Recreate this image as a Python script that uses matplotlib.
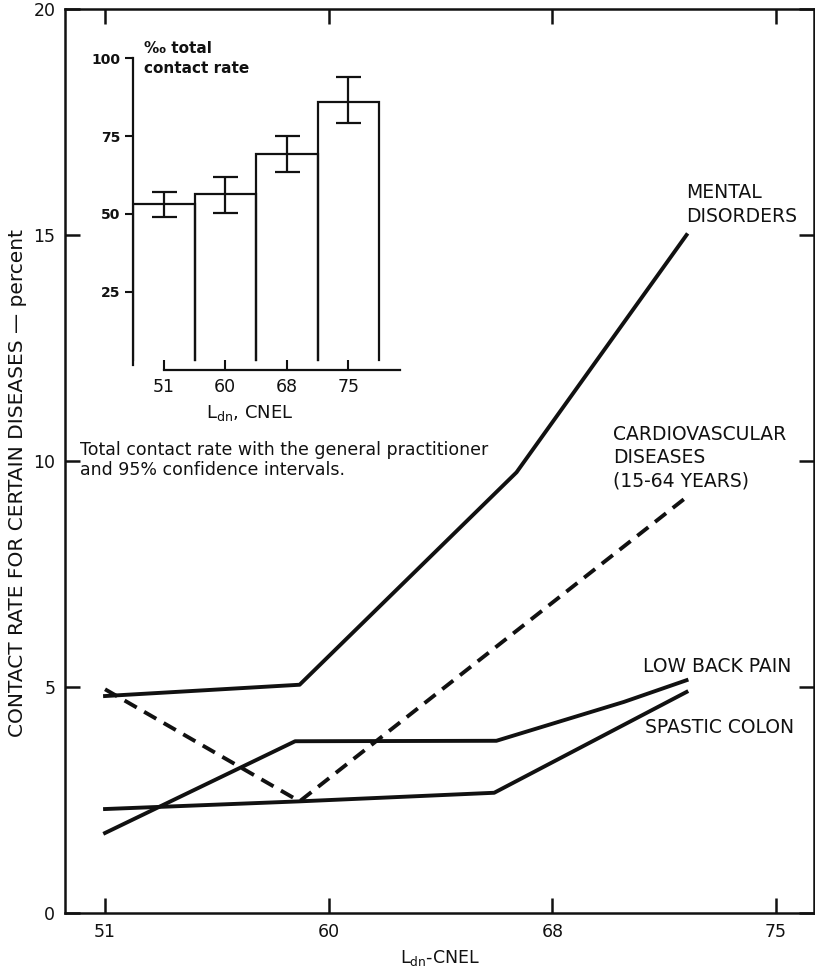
import matplotlib
matplotlib.use("Agg")
import matplotlib.pyplot as plt

# main chart, x positions are in tick-index units (51, 60, 68, 75 equally spaced)
ldn_labels = ["51", "60", "68", "75"]

mental_x = [0, 0.87, 1.84, 2.60]
mental_y = [4.8, 5.05, 9.75, 15.0]

cardio_x = [0, 0.87, 2.60]
cardio_y = [4.95, 2.47, 9.2]

backpain_x = [0, 0.85, 1.75, 2.32, 2.60]
backpain_y = [1.77, 3.80, 3.81, 4.67, 5.15]

colon_x = [0, 0.87, 1.74, 2.60]
colon_y = [2.30, 2.47, 2.66, 4.89]

# inset: total contact rate (per mille) and 95% confidence interval
inset_rate = [53.2, 56.3, 69.2, 86.1]
inset_low = [49.1, 50.2, 63.6, 79.1]
inset_high = [57.1, 62.0, 75.0, 93.9]

ink = "#111111"
plt.rcParams["font.family"] = ["DejaVu Sans"]

fig = plt.figure(figsize=(8.15, 9.76), dpi=100)
ax = fig.add_axes([65 / 815, 1 - 913 / 976, 749 / 815, 904 / 976])

lw = 2.8
ax.plot(mental_x, mental_y, color=ink, lw=lw)
ax.plot(cardio_x, cardio_y, color=ink, lw=lw, dashes=(3.6, 2.2))
ax.plot(backpain_x, backpain_y, color=ink, lw=lw)
ax.plot(colon_x, colon_y, color=ink, lw=lw)

ax.set_xlim(-0.179, 3.17)
ax.set_ylim(0, 20)
ax.set_xticks(range(len(ldn_labels)))
ax.set_xticklabels(ldn_labels)
ax.set_yticks([0, 5, 10, 15, 20])
ax.tick_params(direction="in", length=11, width=1.8, top=True, right=True,
               labelsize=12.5, colors=ink, pad=7)
for s in ax.spines.values():
    s.set_linewidth(1.8)
    s.set_color(ink)

# curve labels
lab = dict(fontsize=13.5, color=ink, va="center", ha="left", linespacing=1.3)
ax.text(2.60, 15.68, "MENTAL\nDISORDERS", **lab)
ax.text(2.27, 10.07, "CARDIOVASCULAR\nDISEASES\n(15-64 YEARS)", **lab)
ax.text(2.405, 5.46, "LOW BACK PAIN", **lab)
ax.text(2.414, 4.11, "SPASTIC COLON", **lab)

fig.text(440 / 815, 1 - 958 / 976, "L$_{\\rm dn}$-CNEL", fontsize=12.5,
         color=ink, ha="center", va="center")
fig.text(18 / 815, 1 - 483 / 976, "CONTACT RATE FOR CERTAIN DISEASES — percent",
         rotation=90, fontsize=14.5, color=ink, ha="center", va="center")

fig.text(80 / 815, 1 - 460 / 976,
         "Total contact rate with the general practitioner\nand 95% confidence intervals.",
         fontsize=12.5, color=ink, ha="left", va="center", linespacing=1.15)

# inset bar chart
ax2 = fig.add_axes([133 / 815, 1 - 369.5 / 976, 267 / 815, 311.2 / 976])
ax2.set_xlim(-0.5, 3.84)
ax2.set_ylim(0, 100)
ax2.patch.set_alpha(0)
bar_floor = 3
for i, h in enumerate(inset_rate):
    ax2.plot([i - 0.5, i - 0.5, i + 0.5, i + 0.5], [bar_floor, h, h, bar_floor],
             color=ink, lw=1.6, solid_joinstyle="miter")
err = [[r - lo for r, lo in zip(inset_rate, inset_low)],
       [hi - r for r, hi in zip(inset_rate, inset_high)]]
ax2.errorbar(range(len(inset_rate)), inset_rate, yerr=err, fmt="none",
             ecolor=ink, elinewidth=1.6, capsize=9, capthick=1.6)

ax2.spines["top"].set_visible(False)
ax2.spines["right"].set_visible(False)
ax2.spines["left"].set_bounds(1.5, 100)
ax2.spines["bottom"].set_bounds(0, 3.84)
for s in ax2.spines.values():
    s.set_linewidth(1.6)
    s.set_color(ink)
ax2.set_yticks([25, 50, 75, 100])
ax2.set_yticklabels(["25", "50", "75", "100"], fontweight="bold")
ax2.tick_params(axis="y", direction="out", length=6, width=1.5, labelsize=10,
                colors=ink, pad=3)
ax2.set_xticks(range(len(ldn_labels)))
ax2.set_xticklabels(ldn_labels)
ax2.tick_params(axis="x", direction="in", length=7, width=1.5, labelsize=12.5,
                colors=ink, pad=6)
ax2.text(0.04, 1.0, "‰ total\ncontact rate", transform=ax2.transAxes,
         fontsize=11, fontweight="bold", color=ink, ha="left", va="center",
         linespacing=1.45)
fig.text(250 / 815, 1 - 413 / 976, "L$_{\\rm dn}$, CNEL", fontsize=13,
         color=ink, ha="center", va="center")

fig.savefig("out.png", dpi=100, facecolor="white")
